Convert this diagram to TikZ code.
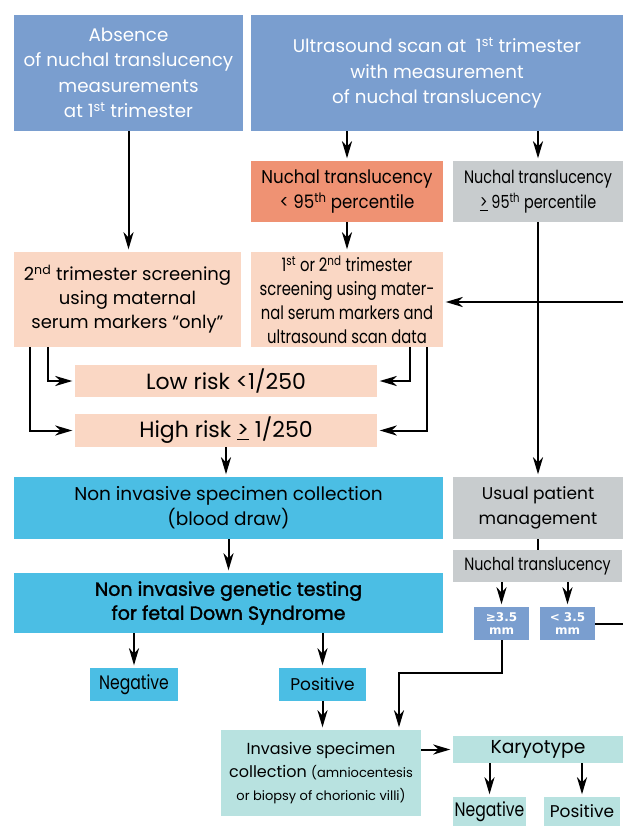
\documentclass[tikz,border=0pt]{standalone}
\usepackage{fontspec}
\setmainfont{Poppins}
\newfontfamily\narrowfont{Poppins}[FakeStretch=0.8]
\newfontfamily\semifont{Poppins}[FakeStretch=0.9]
\newfontfamily\heavyfont{Poppins}[FakeBold=1.6]
\newfontfamily\mmfont{DejaVu Sans}
\usetikzlibrary{arrows.meta, calc}
\definecolor{scanblue}{RGB}{122,158,207}
\definecolor{ntsalmon}{RGB}{239,146,115}
\definecolor{riskpeach}{RGB}{250,215,196}
\definecolor{usualgrey}{RGB}{200,204,206}
\definecolor{niptcyan}{RGB}{75,190,228}
\definecolor{invteal}{RGB}{184,226,224}
\tikzset{
  box/.style={inner sep=0pt, align=center, font=\fontsize{18.3}{25.5}\selectfont},
  narrowbox/.style={box, font=\narrowfont\fontsize{18.5}{24}\selectfont},
  riskbox/.style={box, fill=riskpeach, minimum width=302pt, font=\fontsize{22}{26}\selectfont},
  mmbox/.style={box, fill=scanblue, text=white, minimum width=55pt, minimum height=33pt, font=\mmfont\bfseries\fontsize{12}{13}\selectfont},
  arr/.style={-{Stealth[length=17pt, width=10pt, inset=5pt]}, line width=2pt, shorten >=2.5pt},
  link/.style={line width=2pt},
}

\begin{document}
\begin{tikzpicture}[x=1pt, y=-1pt]
  \useasboundingbox (0,0) rectangle (623,826);

  % First trimester
  \node[box, fill=scanblue, text=white, minimum width=229pt, minimum height=116pt] (absent) at (128.5,73) {Absence\\of nuchal translucency\\measurements\\at 1\textsuperscript{st} trimester};
  \node[box, fill=scanblue, text=white, minimum width=372pt, minimum height=116pt] (scan) at (437,73) {Ultrasound scan at\ \ 1\textsuperscript{st} trimester\\with measurement\\of nuchal translucency};

  % Nuchal translucency
  \node[box, fill=ntsalmon, minimum width=192pt, minimum height=61pt, font=\semifont\fontsize{18.5}{25}\selectfont] (ntlow) at (347,191.5) {Nuchal translucency\\< 95\textsuperscript{th} percentile};
  \node[narrowbox, fill=usualgrey, minimum width=170pt, minimum height=61pt, font=\narrowfont\fontsize{18}{25}\selectfont] (nthigh) at (538,191.5) {Nuchal translucency\\\underline{>} 95\textsuperscript{th} percentile};

  % Screening
  \node[box, fill=riskpeach, minimum width=227pt, minimum height=95pt, font=\fontsize{18}{24}\selectfont] (second) at (127.5,299.5) {2\textsuperscript{nd} trimester screening\\using maternal\\serum markers “only”};
  \node[narrowbox, fill=riskpeach, minimum width=192pt, minimum height=95pt] (first) at (347,299.5) {1\textsuperscript{st} or 2\textsuperscript{nd} trimester\\screening using mater-\\nal serum markers and\\ultrasound scan data};

  % Risk
  \node[riskbox, minimum height=32pt] (low) at (226,381) {Low risk <1/250};
  \node[riskbox, minimum height=33pt] (high) at (226,430.5) {High risk \underline{>} 1/250};

  % Non invasive
  \node[box, fill=niptcyan, minimum width=429pt, minimum height=62pt, font=\fontsize{18.5}{25}\selectfont] (nisc) at (228.5,508) {Non invasive specimen collection\\(blood draw)};
  \node[box, fill=usualgrey, minimum width=170pt, minimum height=62pt, font=\fontsize{17}{25}\selectfont] (usual) at (538,508) {Usual patient\\management};
  \node[box, fill=niptcyan, minimum width=429pt, minimum height=60pt, font=\heavyfont\fontsize{19}{24}\selectfont] (nipt) at (228.5,603) {Non invasive genetic testing\\for fetal Down Syndrome};

  % Nuchal translucency after management
  \node[narrowbox, fill=usualgrey, minimum width=169pt, minimum height=32pt, font=\narrowfont\fontsize{17.8}{24}\selectfont] (ntmm) at (537.5,566) {Nuchal translucency};
  \node[mmbox] (ge35) at (501.5,623.5) {≥3.5\\mm};
  \node[mmbox] (lt35) at (567.5,623.5) {< 3.5\\mm};

  % Results
  \node[narrowbox, fill=niptcyan, minimum width=88pt, minimum height=33pt, font=\narrowfont\fontsize{19.5}{24}\selectfont] (neg) at (134,684.5) {Negative};
  \node[box, fill=niptcyan, minimum width=87pt, minimum height=33pt, font=\fontsize{17}{24}\selectfont] (pos) at (322.5,684.5) {Positive};
  \node[box, fill=invteal, minimum width=200pt, minimum height=86pt, font=\fontsize{16}{23}\selectfont] (inv) at (321,773) {Invasive specimen\\collection {\fontsize{13}{23}\selectfont(amniocentesis}\\{\fontsize{13}{23}\selectfont or biopsy of chorionic villi)}};
  \node[box, fill=invteal, minimum width=170pt, minimum height=27pt, font=\fontsize{18.7}{24}\selectfont] (karyo) at (538,749.5) {Karyotype};
  \node[narrowbox, fill=invteal, minimum width=73pt, minimum height=29pt, font=\narrowfont\fontsize{19.5}{24}\selectfont] (neg2) at (489.5,811.5) {Negative};
  \node[box, fill=invteal, minimum width=76pt, minimum height=29pt, font=\fontsize{17}{24}\selectfont] (pos2) at (582,811.5) {Positive};

  \coordinate (edgeA) at (623,302);
  \coordinate (edgeB) at (623,623);
  \coordinate (turn) at (399,673);

  % Connectors
  \draw[arr] (absent.south) -- (absent.south |- second.north);
  \draw[arr] (ntlow.north |- scan.south) -- (ntlow.north);
  \draw[arr] (nthigh.north |- scan.south) -- (nthigh.north);
  \draw[arr] (ntlow.south) -- (first.north);
  \draw[arr] (nthigh.south) -- (nthigh.south |- usual.north);
  \draw[arr] (edgeA) -- (edgeA -| first.east);
  \draw[arr] ([xshift=34pt]second.south west) |- (low.west);
  \draw[arr] ([xshift=16pt]second.south west) |- (high.west);
  \draw[arr] ([xshift=-33pt]first.south east) |- (low.east);
  \draw[arr] ([xshift=-16pt]first.south east) |- (high.east);
  \draw[arr] (high.south) -- (high.south |- nisc.north);
  \draw[arr] (nisc.south) -- (nipt.north);
  \draw[link] (usual.south) -- (usual.south |- ntmm.north);
  \draw[arr] (ntmm.south -| ge35) -- (ge35.north);
  \draw[arr] (ntmm.south -| lt35) -- (lt35.north);
  \draw[link] (lt35.east) -- (lt35.east -| edgeB);
  \draw[arr] (ge35.south) |- (turn) -- (turn |- inv.north);
  \draw[arr] (nipt.south -| neg) -- (neg.north);
  \draw[arr] (nipt.south -| pos) -- (pos.north);
  \draw[arr] (pos.south) -- (pos.south |- inv.north);
  \draw[arr] (inv.east |- karyo) -- (karyo.west);
  \draw[arr] (karyo.south -| neg2) -- (neg2.north);
  \draw[arr] (karyo.south -| pos2) -- (pos2.north);
\end{tikzpicture}
\end{document}
